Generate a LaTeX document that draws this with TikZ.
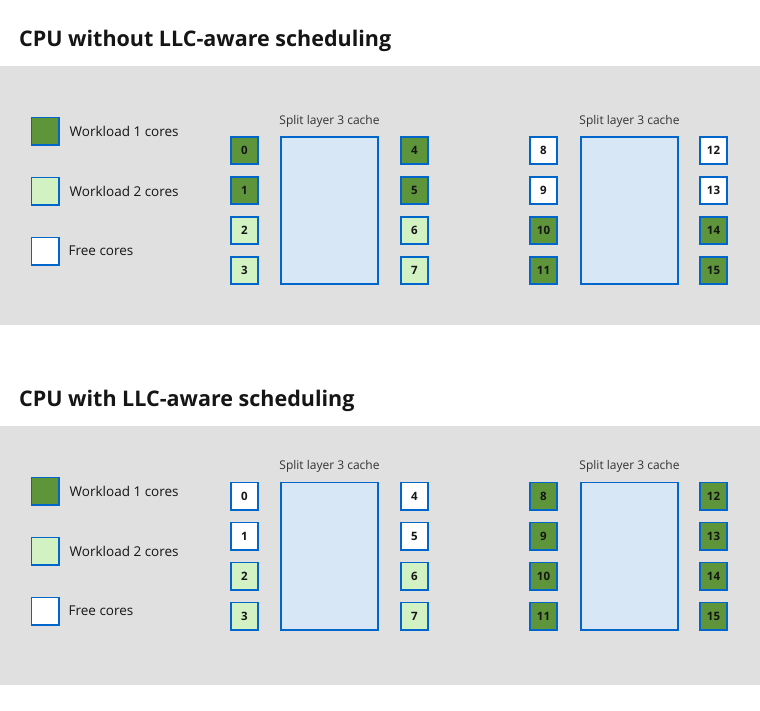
\documentclass[tikz,border=0pt]{standalone}
\usepackage{fontspec}
\setmainfont{Open Sans}
\usetikzlibrary{positioning}

\definecolor{bandgray}{HTML}{E0E0E0}
\definecolor{coreblue}{HTML}{0066CC}
\definecolor{wlone}{HTML}{5E953A}
\definecolor{wltwo}{HTML}{D3F2C3}
\definecolor{cachefill}{HTML}{D8E7F5}
\definecolor{inkdark}{HTML}{151515}
\definecolor{inkgray}{HTML}{333333}

\tikzset{
  core/.style={draw=coreblue, line width=1.6pt, minimum size=27.4pt, inner sep=0pt,
    text=inkdark, font=\bfseries\fontsize{11.5}{11.5}\selectfont},
  busy/.style={core, fill=wlone},
  half/.style={core, fill=wltwo},
  free/.style={core, fill=white},
  cache/.style={draw=coreblue, line width=1.6pt, fill=cachefill,
    minimum width=97.4pt, minimum height=147.4pt, inner sep=0pt},
  title/.style={anchor=base west, inner sep=0pt, text=inkdark,
    font=\bfseries\fontsize{21.5}{21.5}\selectfont},
  legtext/.style={anchor=west, inner sep=0pt, text=inkdark,
    font=\fontsize{13.5}{13.5}\selectfont},
  cachelabel/.style={anchor=base, inner sep=0pt, text=inkgray,
    font=\fontsize{12}{12}\selectfont}
}

\begin{document}
\begin{tikzpicture}[x=1pt, y=-1pt]
    \useasboundingbox (0,0) rectangle (760,710);
    \fill[white] (0,0) rectangle (760,710);

    % bands behind the two diagrams
    \fill[bandgray] (0,66) rectangle (760,325);
    \fill[bandgray] (0,426) rectangle (760,685);

    \node[title] (titleA) at (19,46) {CPU without LLC-aware scheduling};
    \node[title] (titleB) at (19,406) {CPU with LLC-aware scheduling};

    % legends
    \foreach \sec/\dy in {A/0, B/360} {
        \node[busy] (keyone\sec) at (45,131+\dy) {};
        \node[half, below=31pt of keyone\sec] (keytwo\sec) {};
        \node[free, below=31pt of keytwo\sec] (keyfree\sec) {};
        \node[legtext, right=10pt of keyone\sec] {Workload 1 cores};
        \node[legtext, right=10pt of keytwo\sec] {Workload 2 cores};
        \node[legtext, right=9pt of keyfree\sec] {Free cores};
    }

    % split L3 caches
    \foreach \sec/\yc in {A/210.5, B/556} {
        \foreach \g/\xc in {1/329.5, 2/629.5} {
            \node[cache] (cache\sec\g) at (\xc,\yc) {};
            \node[cachelabel, above=8.5pt of cache\sec\g] {Split layer 3 cache};
        }
    }

    % cores without LLC-aware scheduling
    \foreach \n/\st in {0/busy,1/busy,2/half,3/half,4/busy,5/busy,6/half,7/half,
                        8/free,9/free,10/busy,11/busy,12/free,13/free,14/busy,15/busy} {
        \pgfmathtruncatemacro{\grp}{\n/8}
        \pgfmathtruncatemacro{\col}{mod(\n,8)/4}
        \pgfmathtruncatemacro{\row}{mod(\n,4)}
        \node[\st] (coreA\n) at (244.5+299*\grp+170*\col, 150.5+40*\row) {\n};
    }

    % cores with LLC-aware scheduling
    \foreach \n/\st in {0/free,1/free,2/half,3/half,4/free,5/free,6/half,7/half,
                        8/busy,9/busy,10/busy,11/busy,12/busy,13/busy,14/busy,15/busy} {
        \pgfmathtruncatemacro{\grp}{\n/8}
        \pgfmathtruncatemacro{\col}{mod(\n,8)/4}
        \pgfmathtruncatemacro{\row}{mod(\n,4)}
        \node[\st] (coreB\n) at (244.5+299*\grp+170*\col, 496+40*\row) {\n};
    }
\end{tikzpicture}
\end{document}
